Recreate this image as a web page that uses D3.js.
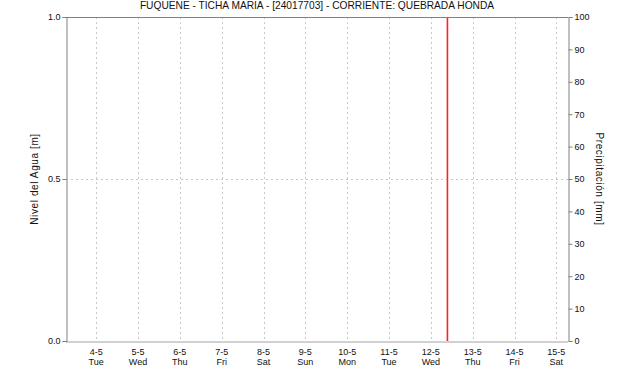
<!DOCTYPE html>
<html>
<head>
<meta charset="utf-8">
<script src="https://cdn.jsdelivr.net/npm/d3@7"></script>
<style>
  body { margin: 0; background: #fff; }
  text { font-family: "Liberation Sans", Arial, sans-serif; fill: #111; }
</style>
</head>
<body>
<div id="chart"></div>
<script>
// rango de fechas visible (mayo 2021)
var fechaInicio = new Date(2021, 4, 3, 6, 40)
var fechaFin = new Date(2021, 4, 15, 6, 40)
var diasTicks = [4, 5, 6, 7, 8, 9, 10, 11, 12, 13, 14, 15]
var nivelTicks = [0, 0.5, 1.0]
var precipTicks = [0, 10, 20, 30, 40, 50, 60, 70, 80, 90, 100]
// marca de evento (línea roja)
var marcas = [new Date(2021, 4, 12, 9, 30)]
var titulo = "FUQUENE - TICHA MARIA - [24017703] - CORRIENTE: QUEBRADA HONDA"
var diasSemana = ["Sun", "Mon", "Tue", "Wed", "Thu", "Fri", "Sat"]

var width = 621, height = 382
var margin = { top: 17, right: 53, bottom: 41, left: 66 }

var svg = d3.select("#chart").append("svg")
    .attr("width", width)
    .attr("height", height)

var xScale = d3.scaleTime()
    .domain([fechaInicio, fechaFin])
    .range([margin.left, width - margin.right])

var yScale = d3.scaleLinear()
    .domain([0, 1])
    .range([height - margin.bottom, margin.top])

var y2Scale = d3.scaleLinear()
    .domain([0, 100])
    .range([height - margin.bottom, margin.top])

var fechasTicks = diasTicks.map(d => new Date(2021, 4, d))

// rejilla
svg.append("g")
    .selectAll("line")
    .data(fechasTicks)
    .join("line")
    .attr("x1", d => Math.round(xScale(d)) + 0.5)
    .attr("x2", d => Math.round(xScale(d)) + 0.5)
    .attr("y1", margin.top)
    .attr("y2", height - margin.bottom)
    .attr("stroke", "#c8c8c8")
    .attr("stroke-dasharray", "2,3")

svg.append("line")
    .attr("x1", margin.left)
    .attr("x2", width - margin.right)
    .attr("y1", Math.round(yScale(0.5)) + 0.5)
    .attr("y2", Math.round(yScale(0.5)) + 0.5)
    .attr("stroke", "#c8c8c8")
    .attr("stroke-dasharray", "2,3")

// marco superior
svg.append("line")
    .attr("x1", margin.left)
    .attr("x2", width - margin.right)
    .attr("y1", margin.top + 0.5)
    .attr("y2", margin.top + 0.5)
    .attr("stroke", "#808080")

// ejes
var yAxis = d3.axisLeft(yScale).tickValues(nivelTicks).tickFormat(d3.format(".1f")).tickSize(4)
var gy = svg.append("g")
    .attr("transform", "translate(" + (margin.left + 0.5) + ",0)")
    .call(yAxis)

var y2Axis = d3.axisRight(y2Scale).tickValues(precipTicks).tickFormat(d3.format("d")).tickSize(4)
var gy2 = svg.append("g")
    .attr("transform", "translate(" + (width - margin.right + 0.5) + ",0)")
    .call(y2Axis)

var xAxis = d3.axisBottom(xScale).tickValues(fechasTicks).tickSize(0).tickFormat("")
var gx = svg.append("g")
    .attr("transform", "translate(0," + (height - margin.bottom + 0.5) + ")")
    .call(xAxis)

;[gy, gy2, gx].forEach(g => {
    g.select(".domain").attr("stroke", "#808080")
    g.selectAll(".tick line").attr("stroke", "#808080")
    g.selectAll(".tick text").attr("font-size", 9).attr("fill", "#111")
        .attr("font-family", "Liberation Sans, Arial, sans-serif")
})
gy.selectAll(".tick text").attr("x", -6)
gy2.selectAll(".tick text").attr("x", 6)
gx.select(".domain").attr("stroke", "#444").attr("stroke-dasharray", "1,1")

// etiquetas de fechas en dos líneas
var etiquetas = svg.append("g")
    .selectAll("text")
    .data(fechasTicks)
    .join("text")
    .attr("text-anchor", "middle")
    .attr("font-size", 9)
    .attr("x", d => xScale(d))
    .attr("y", height - margin.bottom + 14)
etiquetas.append("tspan")
    .attr("x", d => xScale(d))
    .text(d => d.getDate() + "-" + (d.getMonth() + 1))
etiquetas.append("tspan")
    .attr("x", d => xScale(d))
    .attr("dy", 10)
    .text(d => diasSemana[d.getDay()])

// marca roja
svg.append("g")
    .selectAll("line")
    .data(marcas)
    .join("line")
    .attr("x1", d => xScale(d))
    .attr("x2", d => xScale(d))
    .attr("y1", margin.top + 1)
    .attr("y2", height - margin.bottom)
    .attr("stroke", "#ff2020")
    .attr("stroke-width", 1.6)

// títulos
svg.append("text")
    .attr("x", (margin.left + width - margin.right) / 2)
    .attr("y", 9)
    .attr("text-anchor", "middle")
    .attr("font-size", 10.2)
    .text(titulo)

svg.append("text")
    .attr("transform", "translate(38," + yScale(0.5) + ") rotate(-90)")
    .attr("text-anchor", "middle")
    .attr("font-size", 10)
    .attr("letter-spacing", 0.6)
    .text("Nivel del Agua [m]")

svg.append("text")
    .attr("transform", "translate(596," + yScale(0.5) + ") rotate(90)")
    .attr("text-anchor", "middle")
    .attr("font-size", 10)
    .attr("letter-spacing", 0.6)
    .text("Precipitación [mm]")
</script>
</body>
</html>
